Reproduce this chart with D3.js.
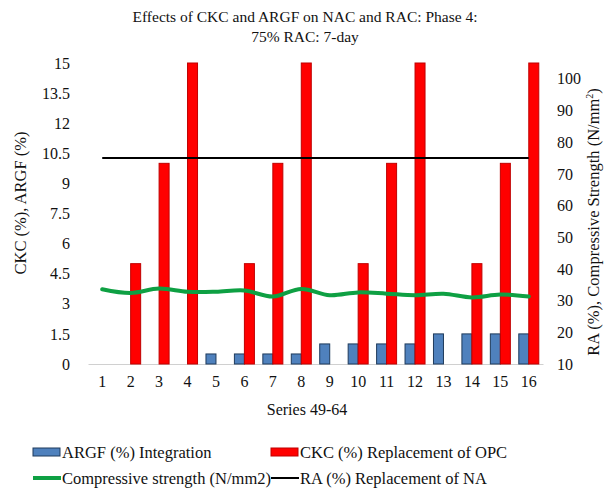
<!DOCTYPE html>
<html>
<head>
<meta charset="utf-8">
<script src="https://cdn.jsdelivr.net/npm/d3@7"></script>
</head>
<body style="margin:0">
<svg id="chart" width="608" height="490"></svg>
<script>
// Mix numbers 1-16 (series 49-64)
const mixes = d3.range(1, 17);
// ARGF (%) integration
const argf = [0, 0, 0, 0, 0.5, 0.5, 0.5, 0.5, 1, 1, 1, 1, 1.5, 1.5, 1.5, 1.5];
// CKC (%) replacement of OPC
const ckc = [0, 5, 10, 15, 0, 5, 10, 15, 0, 5, 10, 15, 0, 5, 10, 15];
// 7-day compressive strength (N/mm2)
const strength = [33.6, 32.4, 33.8, 32.8, 32.8, 33.2, 31.3, 33.7, 31.7, 32.6, 32.2, 31.7, 32.2, 31.0, 31.9, 31.3];
// RA (%) replacement of NA
const ra = [75, 75, 75, 75, 75, 75, 75, 75, 75, 75, 75, 75, 75, 75, 75, 75];
// Axis tick values
const leftTicks = [0, 1.5, 3, 4.5, 6, 7.5, 9, 10.5, 12, 13.5, 15];
const rightTicks = [10, 20, 30, 40, 50, 60, 70, 80, 90, 100];

const FONT = "'Liberation Serif'";
const svg = d3.select("#chart");
const plot = { left: 88, right: 543, top: 63, bottom: 364 };

const x = d3.scaleBand().domain(mixes).range([plot.left, plot.right]).padding(0);
const barW = 10;
const inner = d3.scaleBand().domain(["argf", "ckc"])
  .range([x.bandwidth() / 2 - barW, x.bandwidth() / 2 + barW]);
const yL = d3.scaleLinear().domain([0, 15]).range([plot.bottom, plot.top]);
const yR = d3.scaleLinear().domain([10, 105]).range([plot.bottom, plot.top]);

function label(sel, size) {
  return sel.style("font-family", FONT).attr("font-size", size).attr("fill", "#111");
}

// Title
label(svg.append("text"), 15.5).attr("x", 305).attr("y", 22).attr("text-anchor", "middle")
  .text("Effects of CKC and ARGF on NAC and RAC: Phase 4:");
label(svg.append("text"), 15.5).attr("x", 305).attr("y", 42).attr("text-anchor", "middle")
  .text("75% RAC: 7-day");

// Left axis
const gL = svg.append("g").attr("transform", `translate(${plot.left - 16},0)`)
  .call(d3.axisLeft(yL).tickValues(leftTicks).tickSize(0).tickPadding(2)
    .tickFormat(d => String(d)));
gL.select(".domain").remove();
gL.attr("font-family", null);
label(gL.selectAll("text"), 16);

// Right axis
const gR = svg.append("g").attr("transform", `translate(${plot.right + 12},0)`)
  .call(d3.axisRight(yR).tickValues(rightTicks).tickSize(0).tickPadding(2));
gR.select(".domain").remove();
gR.attr("font-family", null);
label(gR.selectAll("text"), 16);

// Bottom axis
const gB = svg.append("g").attr("transform", `translate(0,${plot.bottom})`)
  .call(d3.axisBottom(x).tickSize(0).tickPadding(12));
gB.select(".domain").attr("stroke", "#d0d0d0").attr("stroke-width", 1);
gB.attr("font-family", null);
label(gB.selectAll("text"), 16);

// Axis titles
label(svg.append("text"), 16.5).attr("transform", "translate(26,203) rotate(-90)")
  .attr("text-anchor", "middle").text("CKC (%), ARGF (%)");
const rt = label(svg.append("text"), 16.5).attr("transform", "translate(599,222) rotate(-90)")
  .attr("text-anchor", "middle");
rt.append("tspan").text("RA (%), Compressive Strength (N/mm");
rt.append("tspan").attr("font-size", 10).attr("dy", -6).text("2");
rt.append("tspan").attr("dy", 6).text(")");

label(svg.append("text"), 16).attr("x", 307).attr("y", 415).attr("text-anchor", "middle")
  .text("Series 49-64");

// Bars
const bars = svg.append("g");
bars.selectAll("rect.argf").data(mixes.filter((m, i) => argf[i] > 0))
  .join("rect").attr("class", "argf")
  .attr("x", m => x(m) + inner("argf"))
  .attr("width", inner.bandwidth())
  .attr("y", m => yL(argf[m - 1]))
  .attr("height", m => yL(0) - yL(argf[m - 1]))
  .attr("fill", "#4f81bd").attr("stroke", "#1f3b5c").attr("stroke-width", 1);
bars.selectAll("rect.ckc").data(mixes.filter((m, i) => ckc[i] > 0))
  .join("rect").attr("class", "ckc")
  .attr("x", m => x(m) + inner("ckc"))
  .attr("width", inner.bandwidth())
  .attr("y", m => yL(ckc[m - 1]))
  .attr("height", m => yL(0) - yL(ckc[m - 1]))
  .attr("fill", "#ff0000").attr("stroke", "#c00000").attr("stroke-width", 1);

// Lines on the secondary axis
const cx = m => x(m) + x.bandwidth() / 2;
svg.append("path").datum(mixes)
  .attr("d", d3.line().x(cx).y(m => yR(ra[m - 1])))
  .attr("fill", "none").attr("stroke", "#000").attr("stroke-width", 2);
svg.append("path").datum(mixes)
  .attr("d", d3.line().x(cx).y(m => yR(strength[m - 1])).curve(d3.curveCatmullRom))
  .attr("fill", "none").attr("stroke", "#0ea043").attr("stroke-width", 4)
  .attr("stroke-linecap", "round");

// Legend
const legend = svg.append("g");
const items = [
  { label: "ARGF (%) Integration", type: "rect", fill: "#4f81bd", stroke: "#1f3b5c", x: 33, y: 452 },
  { label: "CKC (%) Replacement of OPC", type: "rect", fill: "#ff0000", stroke: "#c00000", x: 271, y: 452 },
  { label: "Compressive strength (N/mm2)", type: "line", stroke: "#0ea043", w: 4, x: 33, y: 478 },
  { label: "RA (%) Replacement of NA", type: "line", stroke: "#000", w: 2, x: 271, y: 478 }
];
items.forEach(it => {
  if (it.type === "rect") {
    legend.append("rect").attr("x", it.x).attr("y", it.y - 4).attr("width", 27).attr("height", 8)
      .attr("fill", it.fill).attr("stroke", it.stroke);
  } else {
    legend.append("line").attr("x1", it.x).attr("x2", it.x + 28)
      .attr("y1", it.y).attr("y2", it.y)
      .attr("stroke", it.stroke).attr("stroke-width", it.w);
  }
  label(legend.append("text"), 16.5).attr("x", it.x + 29).attr("y", it.y + 5.5).text(it.label);
});
</script>
</body>
</html>
